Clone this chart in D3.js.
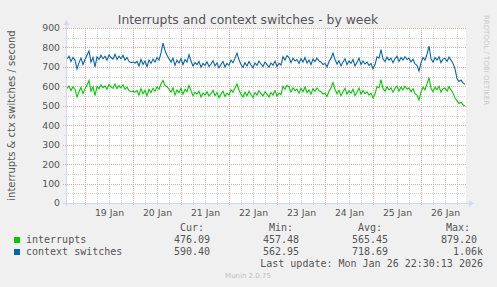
<!DOCTYPE html>
<html>
<head>
<meta charset="utf-8">
<script src="https://cdn.jsdelivr.net/npm/d3@7"></script>
<style>
  body { margin: 0; background: #f0f0f0; }
  svg { display: block; }
</style>
</head>
<body>
<div id="chart"></div>
<script>
// hourly averages, starting Jan 18 15:00
var interrupts = [
    590, 602, 578, 598, 585, 545, 572, 595, 562, 588,
    605, 630, 575, 598, 552, 600, 588, 608, 592, 602,
    585, 610, 596, 590, 612, 588, 603, 592, 608, 585,
    596, 578, 572, 575, 570, 578, 555, 588, 562, 580,
    552, 585, 568, 590, 575, 598, 585, 612, 630, 605,
    598, 585, 570, 592, 555, 582, 568, 590, 560, 585,
    572, 605, 578, 552, 570, 560, 575, 545, 565, 555,
    572, 550, 562, 580, 552, 568, 542, 560, 575, 548,
    565, 555, 582, 570, 592, 612, 580, 560, 545, 570,
    552, 575, 558, 542, 568, 555, 578, 562, 550, 572,
    560, 545, 568, 555, 578, 550, 565, 558, 600, 585,
    605, 598, 570, 592, 578, 586, 565, 590, 572, 596,
    568, 582, 560, 588, 575, 592, 578, 572, 560, 565,
    548, 575, 592, 620, 585, 562, 580, 552, 572, 590,
    560, 578, 565, 585, 552, 570, 592, 560, 578, 562,
    572, 555, 565, 540, 560, 600, 592, 635, 588, 575,
    598, 582, 592, 570, 590, 602, 575, 596, 582, 600,
    585, 592, 572, 588, 562, 555, 530, 570, 596, 582,
    612, 645, 590, 572, 596, 582, 600, 570, 588, 592,
    575, 598, 582, 565, 540, 525, 512, 518, 505, 498
];
var contextSwitches = [
    742, 755, 728, 748, 735, 690, 722, 745, 712, 738,
    760, 782, 725, 748, 700, 752, 738, 760, 742, 755,
    735, 762, 748, 740, 765, 738, 755, 742, 760, 735,
    748, 728, 722, 725, 720, 728, 705, 738, 712, 730,
    702, 735, 718, 740, 725, 748, 735, 772, 822, 785,
    760, 742, 725, 745, 708, 735, 720, 742, 712, 738,
    725, 763, 730, 705, 722, 712, 728, 698, 718, 708,
    725, 702, 715, 732, 705, 720, 695, 712, 728, 700,
    718, 708, 735, 722, 745, 771, 735, 712, 698, 722,
    705, 728, 710, 695, 720, 708, 730, 715, 702, 725,
    712, 698, 720, 708, 730, 702, 718, 710, 752, 735,
    758, 748, 722, 745, 730, 738, 718, 742, 725, 748,
    720, 735, 712, 740, 728, 745, 730, 725, 712, 718,
    700, 728, 745, 771, 738, 715, 732, 705, 725, 742,
    712, 730, 718, 738, 705, 722, 745, 712, 730, 715,
    725, 708, 718, 690, 712, 752, 745, 789, 740, 728,
    750, 735, 745, 722, 742, 755, 728, 748, 735, 752,
    738, 745, 725, 740, 715, 708, 679, 722, 748, 735,
    765, 807, 742, 725, 748, 735, 752, 722, 740, 745,
    728, 750, 735, 718, 690, 640, 625, 632, 618, 610
];
var yTicks = [0, 100, 200, 300, 400, 500, 600, 700, 800, 900];
var legendNames = ["interrupts", "context switches"];
var legendColors = ["#00cc00", "#0066b3"];
var legendHeaders = ["Cur:", "Min:", "Avg:", "Max:"];
var legendCur = ["476.09", "590.40"];
var legendMin = ["457.48", "562.95"];
var legendAvg = ["565.45", "718.69"];
var legendMax = ["879.20", "1.06k"];

function init() {
    var w = 497, h = 287;
    var left = 66, right = 466, top = 28, bottom = 203;

    var t0 = Date.UTC(2026, 0, 18, 14, 30);
    var t1 = Date.UTC(2026, 0, 26, 22, 30);
    var firstPoint = Date.UTC(2026, 0, 18, 15, 0);

    var x = d3.scaleUtc().domain([t0, t1]).range([left, right]);
    var y = d3.scaleLinear().domain([0, 900]).range([bottom, top]);

    var svg = d3.select("#chart").append("svg")
        .attr("width", w).attr("height", h)
        .style("font-family", "'DejaVu Sans', sans-serif");

    svg.append("rect").attr("width", w).attr("height", h).attr("fill", "#f0f0f0");
    svg.append("rect")
        .attr("x", left).attr("y", top)
        .attr("width", right - left).attr("height", bottom - top)
        .attr("fill", "#ffffff");

    // minor grid
    var grid = svg.append("g").attr("shape-rendering", "crispEdges");
    grid.selectAll(".vmin")
        .data(x.ticks(d3.utcHour.every(6)))
        .enter().append("line")
        .attr("x1", function (d) { return Math.round(x(d)) + 0.5; })
        .attr("x2", function (d) { return Math.round(x(d)) + 0.5; })
        .attr("y1", top).attr("y2", bottom + 2)
        .attr("stroke", "#d4d4d4").attr("stroke-dasharray", "1,1");
    grid.selectAll(".hmin")
        .data(d3.range(50, 900, 100))
        .enter().append("line")
        .attr("x1", left - 2).attr("x2", right)
        .attr("y1", function (d) { return Math.round(y(d)) + 0.5; })
        .attr("y2", function (d) { return Math.round(y(d)) + 0.5; })
        .attr("stroke", "#d4d4d4").attr("stroke-dasharray", "1,1");

    // major grid
    grid.selectAll(".vmaj")
        .data(x.ticks(d3.utcDay.every(1)))
        .enter().append("line")
        .attr("x1", function (d) { return Math.round(x(d)) + 0.5; })
        .attr("x2", function (d) { return Math.round(x(d)) + 0.5; })
        .attr("y1", top).attr("y2", bottom + 3)
        .attr("stroke", "#e9a3a3").attr("stroke-dasharray", "1,1");
    grid.selectAll(".hmaj")
        .data(yTicks.slice(1))
        .enter().append("line")
        .attr("x1", left - 3).attr("x2", right)
        .attr("y1", function (d) { return Math.round(y(d)) + 0.5; })
        .attr("y2", function (d) { return Math.round(y(d)) + 0.5; })
        .attr("stroke", "#e9a3a3").attr("stroke-dasharray", "1,1");

    // axes labels
    var yAxis = d3.axisLeft(y).tickValues(yTicks).tickSize(0).tickPadding(6);
    var gy = svg.append("g").attr("transform", "translate(" + left + ",0)").call(yAxis);
    gy.select(".domain").remove();
    gy.selectAll("text").attr("fill", "#555").style("font-size", "9.3px")
        .style("font-family", "'DejaVu Sans', sans-serif");

    var noons = d3.range(19, 27).map(function (d) { return Date.UTC(2026, 0, d, 12); });
    var xAxis = d3.axisBottom(x).tickValues(noons).tickSize(0).tickPadding(6)
        .tickFormat(d3.utcFormat("%d %b"));
    var gx = svg.append("g").attr("transform", "translate(0," + bottom + ")").call(xAxis);
    gx.select(".domain").remove();
    gx.selectAll("text").attr("fill", "#555").style("font-size", "9.3px")
        .style("font-family", "'DejaVu Sans', sans-serif");

    // lines
    function toSeries(arr) {
        return arr.map(function (v, i) { return [firstPoint + i * 3600000, v]; });
    }
    var line = d3.line()
        .x(function (d) { return x(d[0]); })
        .y(function (d) { return y(d[1]); });

    [interrupts, contextSwitches].forEach(function (arr, i) {
        svg.append("path")
            .datum(toSeries(arr))
            .attr("d", line)
            .attr("fill", "none")
            .attr("stroke", legendColors[i])
            .attr("stroke-width", 1.1);
    });

    // axis lines with arrows
    var axisColor = "#cfd6f8";
    svg.append("line").attr("x1", left - 3).attr("x2", right + 3)
        .attr("y1", bottom + 0.5).attr("y2", bottom + 0.5)
        .attr("stroke", axisColor);
    svg.append("path")
        .attr("d", "M" + (right + 3) + "," + (bottom - 2.5) + "L" + (right + 8) + "," + (bottom + 0.5) + "L" + (right + 3) + "," + (bottom + 3.5) + "Z")
        .attr("fill", axisColor);
    svg.append("line").attr("x1", left + 0.5).attr("x2", left + 0.5)
        .attr("y1", bottom + 3).attr("y2", top - 3)
        .attr("stroke", axisColor);
    svg.append("path")
        .attr("d", "M" + (left - 2.5) + "," + (top - 3) + "L" + (left + 0.5) + "," + (top - 8) + "L" + (left + 3.5) + "," + (top - 3) + "Z")
        .attr("fill", axisColor);

    // title
    svg.append("text")
        .attr("x", 248).attr("y", 24)
        .attr("text-anchor", "middle")
        .attr("fill", "#555")
        .style("font-size", "12.4px")
        .text("Interrupts and context switches - by week");

    // y label
    svg.append("text")
        .attr("transform", "translate(15," + ((top + bottom) / 2) + ") rotate(-90)")
        .attr("text-anchor", "middle")
        .attr("fill", "#555")
        .style("font-size", "10px")
        .text("interrupts & ctx switches / second");

    // rrdtool watermark
    svg.append("text")
        .attr("transform", "translate(484,15) rotate(90)")
        .attr("fill", "#c8c8c8")
        .style("font-size", "7px")
        .text("RRDTOOL / TOBI OETIKER");

    // legend
    var mono = "'DejaVu Sans Mono', monospace";
    var colEnds = [210, 299, 388, 477];
    var headEnds = [204, 293, 382, 470];
    var lg = svg.append("g").style("font-family", mono).style("font-size", "10px").attr("fill", "#555");

    lg.selectAll(".hdr").data(legendHeaders).enter().append("text")
        .attr("x", function (d, i) { return headEnds[i]; })
        .attr("y", 231).attr("text-anchor", "end").text(function (d) { return d; });

    legendNames.forEach(function (name, r) {
        var yy = 243 + r * 12;
        lg.append("rect").attr("x", 14).attr("y", yy - 6).attr("width", 6).attr("height", 6)
            .attr("fill", legendColors[r]);
        lg.append("text").attr("x", 26).attr("y", yy).text(name);
        var vals = [legendCur[r], legendMin[r], legendAvg[r], legendMax[r]];
        vals.forEach(function (v, c) {
            var end = colEnds[c];
            if (/[a-z]$/.test(v)) end += 6;
            lg.append("text").attr("x", end).attr("y", yy).attr("text-anchor", "end").text(v);
        });
    });

    lg.append("text").attr("x", 483).attr("y", 267).attr("text-anchor", "end")
        .text("Last update: Mon Jan 26 22:30:13 2026");

    svg.append("text").attr("x", 248).attr("y", 278).attr("text-anchor", "middle")
        .attr("fill", "#c0c0c0").style("font-size", "7px")
        .text("Munin 2.0.75");
}

window.onload = init;
</script>
</body>
</html>
